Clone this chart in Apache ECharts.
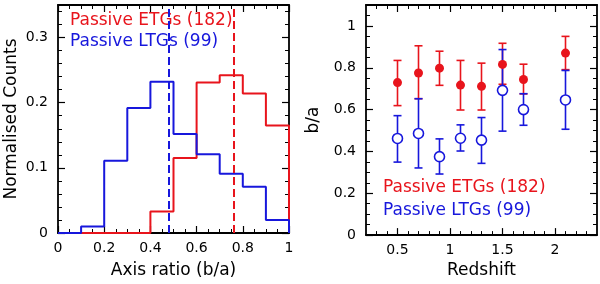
<!DOCTYPE html>
<html>
<head>
<meta charset="utf-8">
<script src="https://cdn.jsdelivr.net/npm/echarts@6/dist/echarts.min.js"></script>
<style>html,body{margin:0;padding:0;background:#fff}#c{width:600px;height:284px}</style>
</head>
<body>
<div id="c"></div>
<script>
// ---------- Data ----------
// Left panel: normalised histogram of axis ratio (bins of width 0.1)
const binEdges = [0, 0.1, 0.2, 0.3, 0.4, 0.5, 0.6, 0.7, 0.8, 0.9, 1.0];
const etgCounts = [0, 0, 0, 0, 0.033, 0.115, 0.231, 0.242, 0.214, 0.165];
const ltgCounts = [0, 0.010, 0.111, 0.192, 0.232, 0.152, 0.121, 0.091, 0.071, 0.020];
const etgMedian = 0.763;
const ltgMedian = 0.482;

// Right panel: b/a vs redshift
const redshift = [0.5, 0.7, 0.9, 1.1, 1.3, 1.5, 1.7, 2.1];
const etgBA = [0.729, 0.775, 0.798, 0.717, 0.711, 0.816, 0.744, 0.870];
const etgLo = [0.619, 0.652, 0.716, 0.598, 0.598, 0.721, 0.675, 0.791];
const etgHi = [0.835, 0.905, 0.879, 0.835, 0.822, 0.917, 0.817, 0.950];
const ltgBA = [0.462, 0.486, 0.375, 0.463, 0.454, 0.692, 0.600, 0.646];
const ltgLo = [0.349, 0.321, 0.292, 0.402, 0.343, 0.497, 0.525, 0.506];
const ltgHi = [0.571, 0.652, 0.460, 0.527, 0.562, 0.887, 0.676, 0.787];

// Tick labels
const histXTicks = [0, 0.2, 0.4, 0.6, 0.8, 1];
const histYTicks = [0, 0.1, 0.2, 0.3];
const zXTicks = [0.5, 1, 1.5, 2];
const zYTicks = [0, 0.2, 0.4, 0.6, 0.8, 1];

const etgLabel = 'Passive ETGs (182)';
const ltgLabel = 'Passive LTGs (99)';

// ---------- Styling ----------
const RED = '#e8141c';
const BLUE = '#1717dc';
const FONT = '"DejaVu Sans", sans-serif';

function steps(lo, hi, step) {
  const out = [];
  const n = Math.round((hi - lo) / step);
  for (let i = 0; i <= n; i++) out.push(+(lo + i * step).toFixed(6));
  return out;
}

const xAxes = [], yAxes = [];
function addAxes(list, dim, grid, pos, min, max, major, minor, labels, name, nameGap) {
  const base = {
    type: 'value', gridIndex: grid, position: pos, min: min, max: max,
    splitLine: { show: false },
    axisLine: { show: true, onZero: false, lineStyle: { color: '#000', width: 1.8 } }
  };
  const main = Object.assign({}, base, {
    axisTick: { show: true, inside: true, length: 7, customValues: major, lineStyle: { color: '#000', width: 1.2 } },
    axisLabel: labels ? { show: true, customValues: major, color: '#000', fontFamily: FONT, fontSize: 14, margin: dim === 'x' ? 8 : 10 } : { show: false }
  });
  if (name) {
    main.name = name;
    main.nameLocation = 'middle';
    main.nameGap = nameGap;
    main.nameTextStyle = { color: '#000', fontFamily: FONT, fontSize: 17 };
    if (dim === 'y') main.nameRotate = 90;
  }
  list.push(main);
  list.push(Object.assign({}, base, {
    axisLine: { show: false, onZero: false },
    axisTick: { show: true, inside: true, length: 4, customValues: minor, lineStyle: { color: '#000', width: 1 } },
    axisLabel: { show: false }
  }));
}

// Left grid (0)
addAxes(xAxes, 'x', 0, 'bottom', 0, 1, histXTicks, steps(0, 1, 0.05), true, 'Axis ratio (b/a)', 29);
addAxes(xAxes, 'x', 0, 'top', 0, 1, histXTicks, steps(0, 1, 0.05), false);
addAxes(yAxes, 'y', 0, 'left', 0, 0.35, histYTicks, steps(0, 0.34, 0.02), true, 'Normalised Counts', 38);
addAxes(yAxes, 'y', 0, 'right', 0, 0.35, histYTicks, steps(0, 0.34, 0.02), false);
// Right grid (1)
const rxStart = xAxes.length, ryStart = yAxes.length;
addAxes(xAxes, 'x', 1, 'bottom', 0.2, 2.4, zXTicks, steps(0.3, 2.3, 0.1), true, 'Redshift', 26);
addAxes(xAxes, 'x', 1, 'top', 0.2, 2.4, zXTicks, steps(0.3, 2.3, 0.1), false);
addAxes(yAxes, 'y', 1, 'left', 0, 1.1, zYTicks, steps(0, 1.05, 0.05), true, 'b/a', 44);
addAxes(yAxes, 'y', 1, 'right', 0, 1.1, zYTicks, steps(0, 1.05, 0.05), false);

function histData(counts) {
  const d = [];
  for (let i = 0; i < counts.length; i++) d.push([binEdges[i], counts[i]]);
  d.push([binEdges[binEdges.length - 1], counts[counts.length - 1]]);
  d.push([binEdges[binEdges.length - 1], 0]);
  return d;
}

function histSeries(counts, median, color) {
  return {
    type: 'line', xAxisIndex: 0, yAxisIndex: 0, step: 'end', symbol: 'none',
    data: histData(counts), silent: true, animation: false,
    lineStyle: { color: color, width: 2 },
    markLine: {
      symbol: 'none', silent: true, animation: false, label: { show: false },
      lineStyle: { color: color, width: 2, type: [8, 4] },
      data: [{ xAxis: median }]
    }
  };
}

function errSeries(lo, hi, color) {
  return {
    type: 'custom', xAxisIndex: rxStart, yAxisIndex: ryStart, silent: true, animation: false,
    data: redshift.map((z, i) => [z, lo[i], hi[i]]),
    encode: { x: 0, y: [1, 2] },
    renderItem: function (params, api) {
      const a = api.coord([api.value(0), api.value(1)]);
      const b = api.coord([api.value(0), api.value(2)]);
      const w = 4;
      const st = { stroke: color, lineWidth: 1.6 };
      return {
        type: 'group', children: [
          { type: 'line', shape: { x1: a[0], y1: a[1], x2: b[0], y2: b[1] }, style: st },
          { type: 'line', shape: { x1: a[0] - w, y1: a[1], x2: a[0] + w, y2: a[1] }, style: st },
          { type: 'line', shape: { x1: b[0] - w, y1: b[1], x2: b[0] + w, y2: b[1] }, style: st }
        ]
      };
    }
  };
}

const option = {
  animation: false,
  backgroundColor: '#fff',
  grid: [
    { left: 58, top: 5, width: 231, height: 232 },
    { left: 366, top: 5, width: 231, height: 232 }
  ],
  xAxis: xAxes,
  yAxis: yAxes,
  series: [
    histSeries(etgCounts, etgMedian, RED),
    histSeries(ltgCounts, ltgMedian, BLUE),
    errSeries(etgLo, etgHi, RED),
    errSeries(ltgLo, ltgHi, BLUE),
    {
      type: 'scatter', xAxisIndex: rxStart, yAxisIndex: ryStart, silent: true, animation: false,
      data: redshift.map((z, i) => [z, ltgBA[i]]),
      symbol: 'circle', symbolSize: 10,
      itemStyle: { color: '#fff', borderColor: BLUE, borderWidth: 1.6, opacity: 1 }
    },
    {
      type: 'scatter', xAxisIndex: rxStart, yAxisIndex: ryStart, silent: true, animation: false,
      data: redshift.map((z, i) => [z, etgBA[i]]),
      symbol: 'circle', symbolSize: 9,
      itemStyle: { color: RED, opacity: 1 }
    }
  ],
  graphic: [
    { type: 'text', x: 70, y: 21, silent: true, style: { text: etgLabel, fill: RED, font: '17px ' + FONT, verticalAlign: 'middle' } },
    { type: 'text', x: 70, y: 42, silent: true, style: { text: ltgLabel, fill: BLUE, font: '17px ' + FONT, verticalAlign: 'middle' } },
    { type: 'text', x: 383, y: 188, silent: true, style: { text: etgLabel, fill: RED, font: '17px ' + FONT, verticalAlign: 'middle' } },
    { type: 'text', x: 383, y: 211, silent: true, style: { text: ltgLabel, fill: BLUE, font: '17px ' + FONT, verticalAlign: 'middle' } }
  ]
};

const chart = echarts.init(document.getElementById('c'), null, { renderer: 'canvas' });
chart.setOption(option);
</script>
</body>
</html>
